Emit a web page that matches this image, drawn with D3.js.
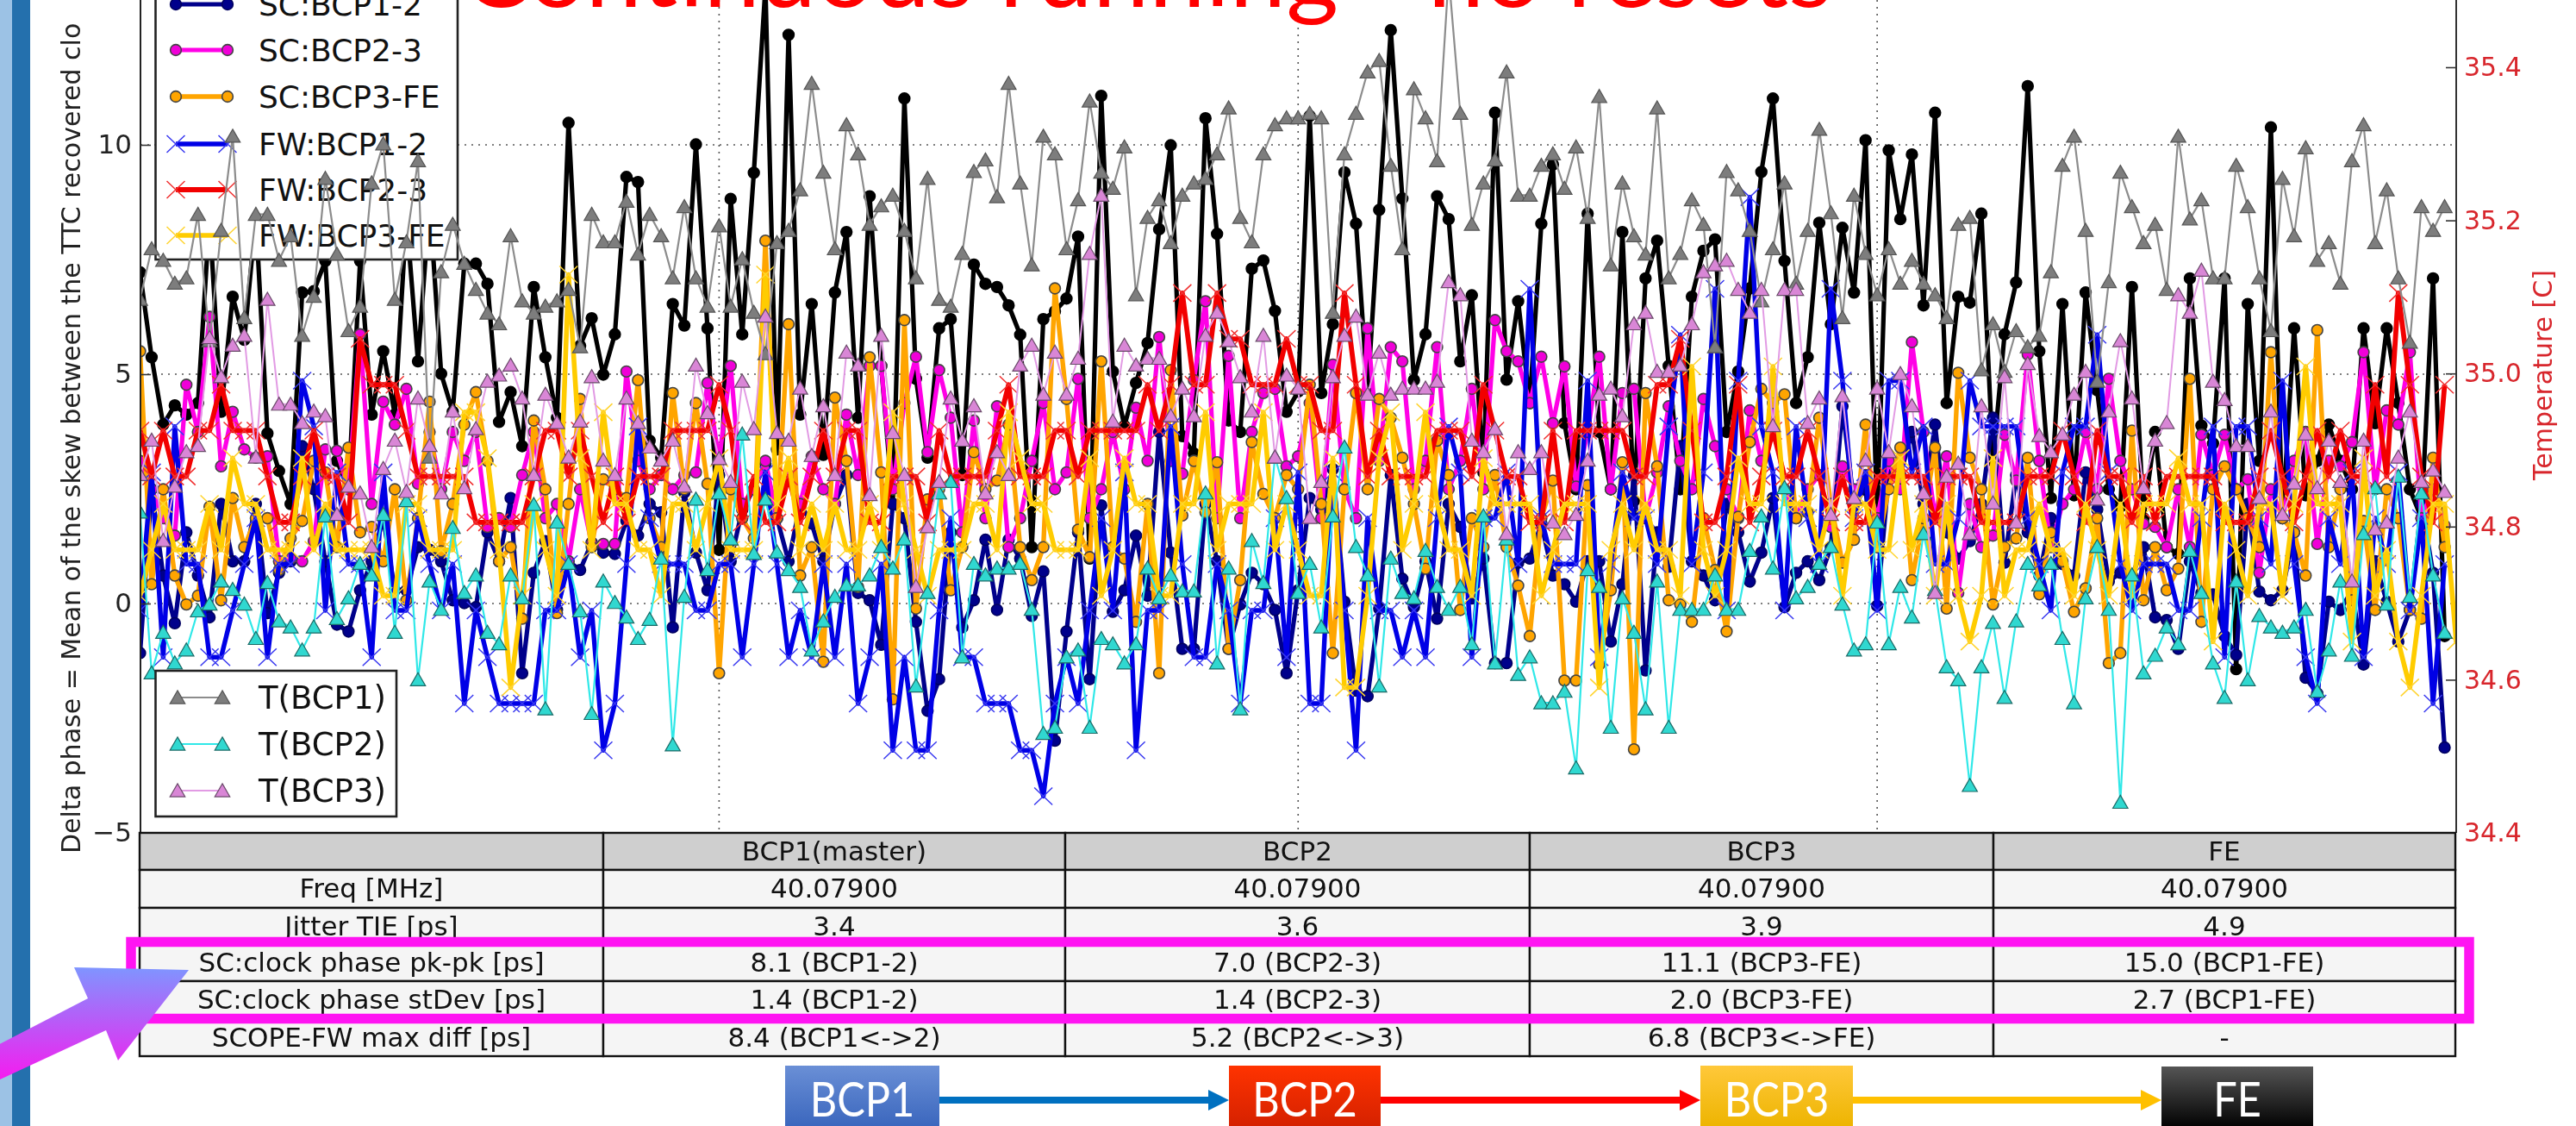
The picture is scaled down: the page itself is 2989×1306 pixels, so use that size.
<!DOCTYPE html>
<html><head><meta charset="utf-8">
<script src="https://cdn.jsdelivr.net/npm/d3@7"></script>
<style>
html,body{margin:0;padding:0;background:#fff;overflow:hidden}
svg{display:block;filter:blur(0.7px)}
text{font-family:"DejaVu Sans",sans-serif}
</style></head><body>
<div id="chart"></div>
<script>
// ---------- data ----------
const scBCP1FE=[7.22,5.37,3.90,4.32,4.12,4.37,8.44,4.18,6.69,5.75,8.44,3.71,2.89,2.17,6.78,6.81,7.47,3.11,2.49,7.47,4.12,5.50,4.12,8.44,5.28,8.75,5.01,4.18,7.41,7.41,6.97,3.96,4.61,3.43,6.90,5.37,4.05,10.48,5.62,6.22,4.99,5.87,9.30,9.19,3.55,3.18,6.53,6.06,10.01,6.00,1.17,8.82,5.87,9.39,13.45,3.36,12.40,4.12,6.53,3.24,6.78,8.10,4.05,
8.88,5.18,2.17,11.01,4.90,3.18,6.00,6.20,2.80,7.39,6.97,6.90,6.50,5.86,1.23,6.20,6.37,6.65,8.00,0.98,11.07,5.06,3.87,4.81,5.68,8.16,9.99,3.65,3.27,10.58,8.06,3.99,3.74,7.30,7.48,6.38,4.18,4.62,10.63,4.59,6.09,9.40,8.28,4.59,8.58,12.50,8.83,4.87,5.87,8.88,8.38,5.28,6.72,2.86,10.70,4.88,6.59,4.37,8.28,9.57,3.93,2.49,8.50,3.74,2.49,8.10,2.24,7.09,7.91,5.18,2.49,6.69,7.69,7.94,
3.74,5.06,6.87,9.41,11.01,7.47,4.37,5.37,8.30,6.09,8.19,6.78,10.10,1.86,9.88,8.38,9.79,6.50,10.70,4.37,6.69,6.56,8.50,3.11,5.87,7.00,11.28,5.50,2.30,6.53,2.36,6.78,4.65,2.49,2.11,6.90,1.86,3.74,1.23,1.08,7.09,3.88,3.49,7.09,-1.43,6.53,3.11,10.38,1.86,6.00,2.36,3.11,3.90,3.11,2.49,6.00,3.93,6.00,4.37,2.49,1.86,7.09,-0.71];
const scBCP12=[-1.08,2.49,0.61,-0.43,1.55,0.61,-0.30,2.17,0.92,0.92,2.17,-0.21,0.67,0.92,3.43,2.49,0.92,-0.46,-0.61,0.29,0.92,1.86,0.29,0.29,1.23,1.17,0.92,0.07,0.01,-0.08,1.55,0.92,2.30,-1.52,0.67,1.36,-0.14,0.92,0.73,1.33,1.11,1.08,1.80,1.48,2.17,1.99,-0.52,2.42,1.11,0.29,2.80,0.92,2.05,2.49,3.05,1.86,0.92,2.17,1.74,0.92,2.17,2.80,0.23,
0.07,-0.90,2.17,1.86,-0.40,-2.34,-1.65,1.55,-0.52,0.07,1.39,-0.14,1.39,0.98,-0.27,0.70,-2.99,-0.61,1.55,-1.65,2.14,-0.18,0.29,1.48,0.17,3.74,1.11,-0.99,-0.99,2.17,0.92,-0.99,-0.02,0.67,0.42,-0.14,-1.52,0.29,2.30,2.05,2.93,0.04,-1.90,-2.02,-0.11,2.80,0.54,-0.08,0.92,-0.33,2.17,1.67,0.11,0.98,-1.30,-1.30,0.89,0.98,1.74,0.61,0.42,0.04,0.92,0.92,-0.83,0.42,2.80,-1.46,1.55,0.80,3.43,0.92,0.61,0.07,
2.17,1.55,0.48,1.11,2.30,-0.08,0.67,0.92,0.51,1.23,4.30,2.17,2.49,-0.05,2.80,2.80,3.74,2.17,3.90,1.55,0.98,1.36,2.17,4.05,0.89,2.80,1.55,0.61,1.86,0.86,0.61,2.86,2.05,0.48,0.67,0.61,1.23,-0.30,-0.36,-0.99,0.92,0.23,0.20,-0.71,-1.12,2.17,0.26,0.07,0.29,1.55,-1.62,-1.96,0.04,-0.14,0.29,-1.33,0.92,0.04,-0.83,-0.14,2.17,0.67,-3.14];
const scBCP23=[3.11,2.49,1.86,1.48,4.77,3.74,6.25,2.99,4.18,3.36,3.18,3.21,0.92,0.98,0.92,1.36,3.36,3.33,2.49,5.87,2.17,4.40,3.90,4.68,2.61,3.74,2.49,3.74,3.11,3.74,1.67,1.86,1.67,2.80,3.74,1.86,2.17,0.92,2.49,1.30,1.30,1.30,5.06,3.11,2.49,2.80,2.49,2.80,2.86,4.81,3.11,5.18,2.17,2.49,3.11,1.86,2.80,2.17,3.21,2.49,2.17,4.12,2.80,
5.18,5.18,2.49,4.37,5.38,3.30,5.09,4.05,1.55,3.99,1.86,4.30,1.23,1.86,3.11,4.37,2.49,2.86,4.90,1.86,2.49,3.74,2.49,4.27,3.11,5.81,3.11,2.83,4.87,6.59,1.86,5.40,1.86,3.74,4.59,4.68,2.99,3.21,4.37,1.86,5.21,2.49,1.86,6.00,3.11,5.59,5.28,2.49,3.11,5.59,2.49,3.11,4.68,2.49,6.18,5.50,5.28,4.37,5.38,3.93,5.17,2.55,3.74,5.38,2.49,4.59,4.68,1.86,2.86,4.30,3.11,2.49,4.46,3.43,
2.49,1.86,4.21,3.11,4.18,2.49,1.86,2.49,2.80,1.67,2.99,2.49,2.80,1.86,3.11,2.49,5.70,3.74,1.86,3.21,0.23,2.17,1.23,1.48,3.68,2.68,5.43,3.11,1.23,2.17,2.49,3.74,2.49,4.90,3.11,2.49,1.74,1.67,1.23,2.49,1.23,3.68,2.80,3.68,2.49,2.71,0.67,2.49,1.86,3.11,3.74,1.30,3.11,2.99,3.52,5.48,2.49,4.21,3.90,5.48,1.86,2.49,1.70];
const scBCP3FE=[5.50,0.42,2.49,0.61,-0.02,0.17,2.11,0.07,2.30,1.23,1.86,1.86,0.73,1.42,1.80,3.11,2.86,1.23,3.40,1.55,1.67,0.92,2.49,0.07,1.86,4.40,1.14,2.17,3.90,4.61,3.11,0.92,1.23,-0.33,3.99,2.49,-0.21,2.17,4.46,1.23,2.71,2.49,2.30,4.87,1.86,1.23,4.59,2.49,4.37,2.61,-1.52,2.49,1.86,1.42,7.91,1.86,6.09,0.61,1.23,-1.27,4.49,3.11,0.36,
5.37,2.86,-2.09,6.18,-0.11,2.27,2.49,0.29,1.23,3.30,2.49,2.68,3.90,1.23,0.51,1.23,6.87,4.46,1.61,1.01,5.28,1.23,0.98,-0.40,2.17,-1.52,5.09,1.92,3.11,1.99,3.08,-0.99,0.51,3.52,2.39,1.86,2.80,2.49,4.77,2.17,-1.08,2.49,4.59,2.49,4.46,4.05,3.18,2.17,0.76,3.55,2.80,-0.14,1.86,1.23,2.80,1.23,0.39,-0.71,1.86,2.68,-1.68,-1.68,2.58,-1.33,0.29,3.08,-3.18,4.59,2.99,0.07,-0.02,-0.40,1.86,0.73,
-0.61,1.89,3.52,4.68,4.37,4.56,1.86,1.99,4.05,2.17,0.89,1.39,3.90,1.23,2.49,3.40,0.51,1.86,3.40,-0.11,5.03,3.18,2.49,-0.02,1.23,1.42,3.18,0.20,1.55,0.92,-0.18,0.33,1.86,-1.30,-1.08,3.77,0.07,1.23,0.29,0.76,4.90,-0.40,2.49,2.99,2.49,1.86,1.23,5.48,1.86,1.55,0.61,5.96,1.23,2.49,0.07,1.80,-0.14,2.49,1.86,-0.14,-0.33,3.18,1.23];
const fwBCP12=[-0.15,2.86,-1.17,3.86,0.86,0.86,-1.17,-1.17,-0.15,0.86,1.86,-1.17,0.86,0.86,4.86,3.86,-0.15,2.86,0.86,0.86,-1.17,2.86,-0.15,-0.15,1.86,0.86,-0.15,0.86,-2.18,-0.15,-1.17,-2.18,-2.18,-2.18,-2.18,-0.15,-0.15,0.86,-1.17,-0.15,-3.2,-2.18,0.86,3.86,1.86,0.86,0.86,0.86,-0.15,-0.15,0.86,0.86,-1.17,0.86,2.86,0.86,-1.17,-0.15,-1.17,0.86,-1.17,0.86,-2.18,
-1.17,0.86,-3.2,-1.17,-3.2,-3.2,-0.15,1.86,-1.17,-1.17,-2.18,-2.18,-2.18,-3.2,-3.2,-4.2,-2.18,-1.17,-2.18,-0.15,1.86,-0.15,2.86,-3.2,-0.15,-0.15,3.86,0.86,-1.17,-1.17,0.86,-0.15,-2.18,-0.15,-0.15,1.86,-1.17,2.86,-2.18,-2.18,2.86,-0.15,-3.2,1.86,-0.15,-0.15,-1.17,-0.15,-1.17,1.86,3.86,2.86,-1.17,1.86,1.86,2.86,0.86,6.86,1.86,0.86,0.86,0.86,4.86,-1.17,0.86,2.86,1.86,1.86,0.86,3.86,5.86,0.86,2.86,6.86,
-0.15,4.86,8.86,3.86,2.86,-0.15,3.86,1.86,0.86,6.86,4.86,1.86,2.86,-0.15,4.86,4.86,2.86,3.86,0.86,0.86,1.86,4.86,3.86,3.86,3.86,3.86,1.86,0.86,-0.15,2.86,3.86,3.86,5.86,2.86,0.86,-0.15,0.86,0.86,0.86,-0.15,-0.15,1.86,3.86,-1.17,3.86,3.86,1.86,0.86,4.86,0.86,-1.17,-2.18,1.86,0.86,2.86,-1.17,1.86,0.86,2.86,-0.15,1.86,-2.18,0.86];
const fwBCP23=[3.77,2.77,3.77,2.77,2.77,3.77,3.77,4.77,3.77,3.77,3.77,2.77,1.77,1.77,2.77,3.77,2.77,2.77,1.77,5.77,4.77,4.77,4.77,3.77,2.77,2.77,2.77,2.77,2.77,1.77,1.77,1.77,1.77,1.77,2.77,3.77,3.77,2.77,3.77,2.77,1.77,2.77,1.77,2.77,2.77,2.77,3.77,3.77,3.77,3.77,4.77,3.77,1.77,2.77,1.77,1.77,2.77,1.77,2.77,3.77,2.77,3.77,3.77,
1.77,1.77,2.77,2.77,2.77,1.77,3.77,2.77,2.77,2.77,2.77,3.77,4.77,2.77,2.77,2.77,3.77,3.77,2.77,3.77,3.77,3.77,3.77,3.77,4.77,3.77,4.77,6.77,4.77,4.77,6.77,5.77,5.77,4.77,4.77,4.77,5.77,4.77,4.77,3.77,3.77,6.77,4.77,2.77,3.77,2.77,2.77,2.77,2.77,3.77,3.77,3.77,2.77,4.77,3.77,2.77,2.77,1.77,1.77,3.77,1.77,3.77,3.77,3.77,3.77,3.77,2.77,2.77,4.77,4.77,5.77,3.77,1.77,1.77,
2.77,4.77,1.77,2.77,3.77,2.77,2.77,3.77,2.77,1.77,2.77,1.77,1.77,2.77,2.77,2.77,2.77,2.77,1.77,2.77,2.77,2.77,1.77,1.77,1.77,1.77,2.77,2.77,2.77,3.77,2.77,1.77,3.77,2.77,2.77,1.77,2.77,1.77,2.77,2.77,2.77,2.77,2.77,1.77,1.77,1.77,2.77,3.77,2.77,1.77,2.77,3.77,2.77,3.77,2.77,2.77,4.77,2.77,6.77,4.77,2.77,1.77,4.77];
const fwBCP3FE=[0.17,1.17,2.17,1.17,1.17,1.17,2.17,1.17,3.17,2.17,2.17,1.17,1.17,1.17,3.17,1.17,2.17,1.17,1.17,1.17,1.17,0.17,0.17,2.17,2.17,1.17,1.17,1.17,4.17,4.17,3.17,1.17,-1.83,0.17,2.17,1.17,0.17,7.17,3.17,1.17,4.17,2.17,2.17,1.17,1.17,0.17,2.17,2.17,1.17,2.17,3.17,1.17,1.17,1.17,7.17,2.17,3.17,1.17,2.17,1.17,2.17,1.17,1.17,
2.17,1.17,4.17,2.17,1.17,0.17,1.17,1.17,1.17,2.17,2.17,1.17,4.17,3.17,2.17,2.17,1.17,1.17,1.17,3.17,0.17,1.17,3.17,2.17,2.17,0.17,0.17,2.17,2.17,4.17,1.17,2.17,2.17,2.17,4.17,1.17,2.17,1.17,0.17,0.17,3.17,-1.83,-1.83,0.17,3.17,4.17,1.17,2.17,4.17,2.17,1.17,1.17,0.17,3.17,2.17,2.17,2.17,2.17,0.17,1.17,2.17,2.17,2.17,-1.83,1.17,2.17,1.17,2.17,1.17,1.17,0.17,5.17,1.17,0.17,1.17,
3.17,2.17,2.17,5.17,2.17,2.17,2.17,1.17,2.17,0.17,2.17,2.17,1.17,1.17,3.17,1.17,2.17,0.17,2.17,0.17,-0.83,0.17,3.17,0.17,1.17,1.17,2.17,1.17,1.17,0.17,2.17,1.17,0.17,2.17,0.17,2.17,2.17,2.17,3.17,2.17,2.17,-0.83,2.17,1.17,0.17,2.17,2.17,0.17,2.17,5.17,2.17,2.17,2.17,-0.83,3.17,0.17,1.17,-0.83,-1.83,0.17,2.17,2.17,-0.83,1.17,3.17];
const tBCP1=[35.097,35.163,35.148,35.118,35.125,35.208,35.043,35.187,35.310,35.073,35.208,35.208,35.148,35.180,35.050,35.101,35.255,35.156,35.056,35.088,35.249,35.300,35.097,35.172,35.278,34.891,35.133,35.195,35.144,35.110,35.079,35.065,35.180,35.095,35.079,35.088,35.095,35.110,35.035,35.208,35.172,35.172,35.225,35.156,35.208,35.180,35.125,35.218,35.125,35.088,35.193,35.088,35.150,35.080,35.026,35.171,35.187,35.240,35.379,35.263,35.163,35.325,35.287,
35.195,35.219,35.233,35.187,35.125,35.255,35.097,35.088,35.157,35.264,35.279,35.231,35.379,35.249,35.142,35.310,35.287,35.163,35.227,35.356,35.263,35.242,35.296,35.103,35.204,35.227,35.171,35.233,35.249,35.255,35.287,35.347,35.204,35.172,35.287,35.325,35.334,35.334,35.340,35.334,35.080,35.287,35.340,35.394,35.409,35.272,35.163,35.372,35.334,35.278,35.520,35.340,35.195,35.249,35.279,35.394,35.233,35.233,35.272,35.287,35.242,35.296,35.204,35.362,35.142,35.249,35.180,35.156,35.347,35.125,35.157,35.227,35.195,35.035,
35.264,35.240,35.187,35.095,35.163,35.249,35.118,35.187,35.319,35.210,35.073,35.233,35.157,35.103,35.163,35.118,35.148,35.118,35.103,35.073,35.195,35.204,35.005,35.065,35.003,35.056,35.035,35.050,35.133,35.272,35.310,35.187,34.990,35.120,35.263,35.218,35.171,35.195,35.110,35.310,35.202,35.227,35.125,35.125,35.272,35.218,35.125,35.056,35.255,35.180,35.295,35.148,35.171,35.118,35.278,35.325,35.171,35.240,35.125,35.041,35.218,35.187,35.218];
const tBCP2=[34.819,34.609,34.662,34.622,34.639,34.690,34.699,34.729,34.718,34.699,34.654,34.727,34.677,34.669,34.639,34.669,34.814,34.680,34.707,34.752,34.737,34.816,34.662,34.834,34.600,34.729,34.692,34.799,34.714,34.737,34.662,34.647,34.737,34.707,34.829,34.562,34.806,34.752,34.690,34.556,34.729,34.701,34.682,34.654,34.679,34.759,34.515,34.709,34.836,34.744,34.844,34.784,34.921,34.765,34.836,34.767,34.744,34.722,34.639,34.677,34.709,34.724,34.724,
34.737,34.774,34.746,34.784,34.592,34.714,34.844,34.859,34.630,34.752,34.737,34.746,34.746,34.752,34.692,34.530,34.538,34.630,34.639,34.538,34.654,34.647,34.622,34.647,34.746,34.707,34.737,34.716,34.716,34.844,34.622,34.746,34.562,34.782,34.727,34.891,34.838,34.714,34.752,34.669,34.814,34.904,34.774,34.737,34.592,34.759,34.714,34.707,34.769,34.722,34.692,34.722,34.647,34.814,34.622,34.784,34.607,34.630,34.570,34.570,34.585,34.485,34.744,34.722,34.538,34.707,34.662,34.562,34.729,34.538,34.692,34.692,34.692,34.737,
34.692,34.692,34.769,34.814,34.746,34.851,34.707,34.722,34.752,34.774,34.699,34.639,34.647,34.806,34.647,34.722,34.682,34.791,34.718,34.617,34.600,34.462,34.617,34.675,34.577,34.677,34.752,34.724,34.752,34.654,34.570,34.707,34.774,34.692,34.440,34.737,34.609,34.632,34.669,34.647,34.769,34.714,34.622,34.577,34.729,34.600,34.684,34.669,34.662,34.669,34.692,34.585,34.639,34.729,34.632,34.791,34.851,34.699,34.866,34.709,34.844,34.737,34.662];
const tBCP3=[34.868,34.913,34.782,34.853,34.898,34.906,35.047,34.996,35.037,35.050,34.891,35.097,34.960,34.960,34.936,34.951,34.945,34.816,34.853,34.844,34.774,34.876,34.913,34.846,34.968,34.906,34.844,34.951,34.851,34.928,34.990,34.998,35.011,34.968,34.868,34.973,34.936,34.891,34.938,34.996,34.887,34.868,34.968,34.936,34.904,34.887,34.913,34.853,35.011,34.949,34.889,34.859,34.990,34.928,35.075,34.923,34.913,34.981,34.893,34.958,34.868,35.028,35.011,
34.842,35.050,34.923,34.868,34.722,34.800,34.859,34.968,34.913,34.958,34.844,34.898,34.868,35.011,35.037,34.973,35.028,34.973,35.020,35.157,35.233,34.938,35.037,35.011,35.020,35.020,34.945,34.981,34.945,35.050,35.080,35.043,34.996,34.951,35.050,34.891,34.998,34.981,34.812,34.859,34.996,35.050,35.075,34.973,35.028,34.973,34.981,34.981,34.981,34.990,35.120,35.103,34.913,34.898,34.928,34.791,34.898,34.876,34.898,34.806,34.791,34.816,34.887,34.973,34.981,34.945,35.065,35.080,35.003,35.003,35.011,35.065,35.133,35.142,
35.148,35.110,35.080,35.110,34.932,35.110,35.110,34.936,34.968,34.816,34.971,34.838,34.887,34.981,34.898,35.000,34.958,34.844,34.714,34.866,34.883,34.791,34.958,34.831,34.996,34.806,35.013,34.919,34.898,34.921,34.973,35.003,34.836,34.951,35.043,34.968,34.851,34.913,34.936,35.103,35.080,35.135,34.990,34.966,34.906,34.906,34.838,34.951,34.816,34.857,34.921,34.851,34.913,34.859,34.729,34.913,34.797,34.806,34.891,34.951,34.859,34.874,34.846];

const leftTicks=[-5,0,5,10];
const rightTicks=[34.4,34.6,34.8,35.0,35.2,35.4];
const gridX=[50,100,150];
const tableHeader=["","BCP1(master)","BCP2","BCP3","FE"];
const tableRows=[
 ["Freq [MHz]","40.07900","40.07900","40.07900","40.07900"],
 ["Jitter TIE [ps]","3.4","3.6","3.9","4.9"],
 ["SC:clock phase pk-pk [ps]","8.1 (BCP1-2)","7.0 (BCP2-3)","11.1 (BCP3-FE)","15.0 (BCP1-FE)"],
 ["SC:clock phase stDev [ps]","1.4 (BCP1-2)","1.4 (BCP2-3)","2.0 (BCP3-FE)","2.7 (BCP1-FE)"],
 ["SCOPE-FW max diff [ps]","8.4 (BCP1<->2)","5.2 (BCP2<->3)","6.8 (BCP3<->FE)","-"]];
const chainLabels=["BCP1","BCP2","BCP3","FE"];

// ---------- layout ----------
const W=2989,H=1306;
const svg=d3.select("#chart").append("svg").attr("width",W).attr("height",H);
const plot={l:163,r:2850,b:966};
const x=d3.scaleLinear().domain([0,200]).range([162.5,2850]);
const y=d3.scaleLinear().domain([-5,10]).range([966,168]);
const yT=d3.scaleLinear().domain([34.4,35.4]).range([966,78]);

const triPath=d3.symbol(d3.symbolTriangle,132)();
const crossPath="M-10.5,-10L10.5,10M-10.5,10L10.5,-10";
const circPath=d3.symbol(d3.symbolCircle,128)();
const styles={
 circle:(s,col,edge)=>s.attr("d",circPath).attr("fill",col).attr("stroke",edge).attr("stroke-width",1.6),
 cross:(s,col,edge)=>s.attr("d",crossPath).attr("fill","none").attr("stroke",edge).attr("stroke-width",1.5),
 tri:(s,col,edge)=>s.attr("d",triPath).attr("fill",col).attr("stroke",edge).attr("stroke-width",1.2)
};
const leftSeries=[
 {name:"SC:BCP1-FE",v:scBCP1FE,line:"#000",fill:"#000",edge:"#000",m:"circle",w:5.2},
 {name:"SC:BCP1-2",v:scBCP12,line:"#00008b",fill:"#00008b",edge:"#000060",m:"circle",w:5.2},
 {name:"SC:BCP2-3",v:scBCP23,line:"#ff00e6",fill:"#f000d8",edge:"#444",m:"circle",w:5.2},
 {name:"SC:BCP3-FE",v:scBCP3FE,line:"#ffa500",fill:"#ffa500",edge:"#444",m:"circle",w:5.4},
 {name:"FW:BCP1-2",v:fwBCP12,line:"#0000e6",fill:"none",edge:"#3a3af0",m:"cross",w:5.4},
 {name:"FW:BCP2-3",v:fwBCP23,line:"#f20000",fill:"none",edge:"#f03030",m:"cross",w:5.8},
 {name:"FW:BCP3-FE",v:fwBCP3FE,line:"#ffcc00",fill:"none",edge:"#ffd430",m:"cross",w:5.6}];
const rightSeries=[
 {name:"T(BCP1)",v:tBCP1,line:"#8c8c8c",fill:"#7d7d7d",edge:"#555",m:"tri",w:2.2},
 {name:"T(BCP2)",v:tBCP2,line:"#30e8e8",fill:"#30d8d0",edge:"#1a6a66",m:"tri",w:2.2},
 {name:"T(BCP3)",v:tBCP3,line:"#e29be4",fill:"#d986d6",edge:"#6a4a6a",m:"tri",w:2}];

// left decoration bars
svg.append("rect").attr("x",0).attr("y",0).attr("width",14).attr("height",H).attr("fill","#9cc2e5");
svg.append("rect").attr("x",14).attr("y",0).attr("width",21).attr("height",H).attr("fill","#2470ad");

const defs=svg.append("defs");
defs.append("clipPath").attr("id","plotclip").append("rect")
  .attr("x",plot.l).attr("y",-50).attr("width",plot.r-plot.l).attr("height",plot.b+50);
const mkGrad=(id,a,b)=>{const g=defs.append("linearGradient").attr("id",id).attr("x1",0).attr("y1",0).attr("x2",0).attr("y2",1);
  g.append("stop").attr("offset",0).attr("stop-color",a);g.append("stop").attr("offset",1).attr("stop-color",b);};
mkGrad("gArrow","#7f95ff","#ff12ee");
mkGrad("gB1","#6a8fd6","#3a66bd");
mkGrad("gB2","#ff3300","#d42100");
mkGrad("gB3","#ffc83a","#edb400");
mkGrad("gB4","#555555","#000000");

// grid
const grid=svg.append("g").attr("stroke","#555").attr("stroke-width",1.6).attr("stroke-dasharray","2 6");
grid.selectAll("line.h").data([0,5,10]).join("line").attr("x1",plot.l).attr("x2",plot.r).attr("y1",d=>y(d)).attr("y2",d=>y(d));
grid.selectAll("line.v").data(gridX).join("line").attr("x1",d=>x(d)).attr("x2",d=>x(d)).attr("y1",0).attr("y2",plot.b);

function drawSeries(g,s,yScale){
  const gg=g.append("g").attr("class","series");
  gg.append("path").datum(s.v).attr("fill","none").attr("stroke",s.line).attr("stroke-width",s.w)
    .attr("stroke-linejoin","round")
    .attr("d",d3.line().x((d,i)=>x(i)).y(d=>yScale(d)));
  const dy=s.m==="tri"?2:0;
  gg.selectAll("path.m").data(s.v).join("path").attr("class","m")
    .attr("transform",(d,i)=>`translate(${x(i)},${yScale(d)+dy})`)
    .call(styles[s.m],s.fill,s.edge);
}
function legendRow(g,s,yy,x1,x2,tx,fs){
  g.append("line").attr("x1",x1).attr("x2",x2).attr("y1",yy).attr("y2",yy).attr("stroke",s.line).attr("stroke-width",s.w);
  [x1,x2].forEach(px=>g.append("path").attr("transform",`translate(${px},${yy+(s.m==="tri"?2:0)})`).call(styles[s.m],s.fill,s.edge));
  g.append("text").attr("x",tx).attr("y",yy+13).attr("font-size",fs).attr("fill","#111").text(s.name);
}

const clipped=svg.append("g").attr("clip-path","url(#plotclip)");
leftSeries.forEach(s=>drawSeries(clipped,s,y));

// first legend, under the temperature traces
const leg1=svg.append("g");
leg1.append("rect").attr("x",180.5).attr("y",-60).attr("width",350.5).attr("height",361).attr("fill","#fff").attr("stroke","#222").attr("stroke-width",2.6);
leftSeries.slice(1).forEach((s,i)=>legendRow(leg1,s,[5,58,112,167,220,273][i],204,264,300,36));

const clippedT=svg.append("g").attr("clip-path","url(#plotclip)");
rightSeries.forEach(s=>drawSeries(clippedT,s,yT));

// second legend, on top
const leg2=svg.append("g");
leg2.append("rect").attr("x",180.5).attr("y",778).attr("width",279.5).attr("height",169).attr("fill","#fff").attr("stroke","#222").attr("stroke-width",2.6);
rightSeries.forEach((s,i)=>legendRow(leg2,s,[809,863,917][i],206,258,300,37));

// spines & axes
svg.append("line").attr("x1",plot.l).attr("x2",plot.l).attr("y1",0).attr("y2",plot.b).attr("stroke","#222").attr("stroke-width",2);
svg.append("line").attr("x1",plot.r).attr("x2",plot.r).attr("y1",0).attr("y2",plot.b).attr("stroke","#333").attr("stroke-width",2);
const axL=svg.append("g").attr("transform",`translate(${plot.l},0)`)
  .call(d3.axisLeft(y).tickValues(leftTicks).tickSizeInner(-12).tickSizeOuter(0).tickPadding(10).tickFormat(d3.format("d")));
axL.select(".domain").remove();
axL.selectAll("line").attr("stroke","#333").attr("stroke-width",1.6);
axL.selectAll("text").attr("font-size",31).attr("font-family","DejaVu Sans").attr("fill","#222").attr("x",-10);
const axR=svg.append("g").attr("transform",`translate(${plot.r},0)`)
  .call(d3.axisRight(yT).tickValues(rightTicks).tickSizeInner(-12).tickSizeOuter(0).tickPadding(9).tickFormat(d3.format(".1f")));
axR.select(".domain").remove();
axR.selectAll("line").attr("stroke","#333").attr("stroke-width",1.6);
axR.selectAll("text").attr("font-size",30).attr("font-family","DejaVu Sans").attr("fill","#d8262c").attr("x",9);

svg.append("text").attr("transform","translate(93,990) rotate(-90)").attr("font-size",30).attr("fill","#222")
  .text("Delta phase = Mean of the skew between the TTC recovered clo");
svg.append("text").attr("transform","translate(2950,435) rotate(-90)").attr("text-anchor","middle").attr("dy","0.35em")
  .attr("font-size",30).attr("fill","#d8262c").text("Temperature [C]");

// title, cropped by the top of the page
svg.append("text").attr("x",536).attr("y",8).style("font-family","Lato")
  .attr("font-size",112).attr("fill","#ff0000").attr("textLength",1590).attr("lengthAdjust","spacingAndGlyphs")
  .text("Continuous running - no resets");

// table
const colX=[162,700,1236,1775,2313,2849];
const rowY=[966,1009,1053,1096,1138,1182,1225];
const tbl=svg.append("g");
[tableHeader].concat(tableRows).forEach((row,r)=>{
  row.forEach((cell,c)=>{
    tbl.append("rect").attr("x",colX[c]).attr("y",rowY[r]).attr("width",colX[c+1]-colX[c]).attr("height",rowY[r+1]-rowY[r])
      .attr("fill",r===0?"#cfcfcf":"#f5f5f5").attr("stroke","#111").attr("stroke-width",2.4);
    tbl.append("text").attr("x",(colX[c]+colX[c+1])/2).attr("y",(rowY[r]+rowY[r+1])/2+10).attr("text-anchor","middle")
      .attr("font-size",31).attr("fill","#111").text(cell);
  });
});

// highlight frame and arrow
svg.append("rect").attr("x",152).attr("y",1092.5).attr("width",2713).attr("height",89).attr("fill","none").attr("stroke","#ff14f2").attr("stroke-width",11.5);
const arrow=[[86,1122],[219,1125],[137,1230],[123,1195],[0,1252],[-10,1262],[-10,1216],[102,1158]];
svg.append("path").attr("d",d3.line()(arrow)+"Z").attr("fill","url(#gArrow)");

// chain boxes and arrows
const boxX=[[911,1090],[1426,1602],[1973,2150],[2508,2684]];
const boxFill=["url(#gB1)","url(#gB2)","url(#gB3)","url(#gB4)"];
const arrowCol=["#0070c0","#ff0000","#ffc000"];
chainLabels.forEach((t,i)=>{
  svg.append("rect").attr("x",boxX[i][0]).attr("y",i===3?1237:1236).attr("width",boxX[i][1]-boxX[i][0]).attr("height",72).attr("fill",boxFill[i]);
  svg.append("text").attr("transform",`translate(${(boxX[i][0]+boxX[i][1])/2},1295) scale(0.87,1)`).attr("text-anchor","middle").style("font-family","Lato")
    .attr("font-size",56).attr("fill","#fff").text(t);
  if(i<3){
    const a=boxX[i][1],b=boxX[i+1][0],yy=1276;
    svg.append("path").attr("d",d3.line()([[a,yy-4],[b-24,yy-4],[b-24,yy-12],[b,yy],[b-24,yy+12],[b-24,yy+4],[a,yy+4]])+"Z").attr("fill",arrowCol[i]);
  }
});
</script></body></html>
